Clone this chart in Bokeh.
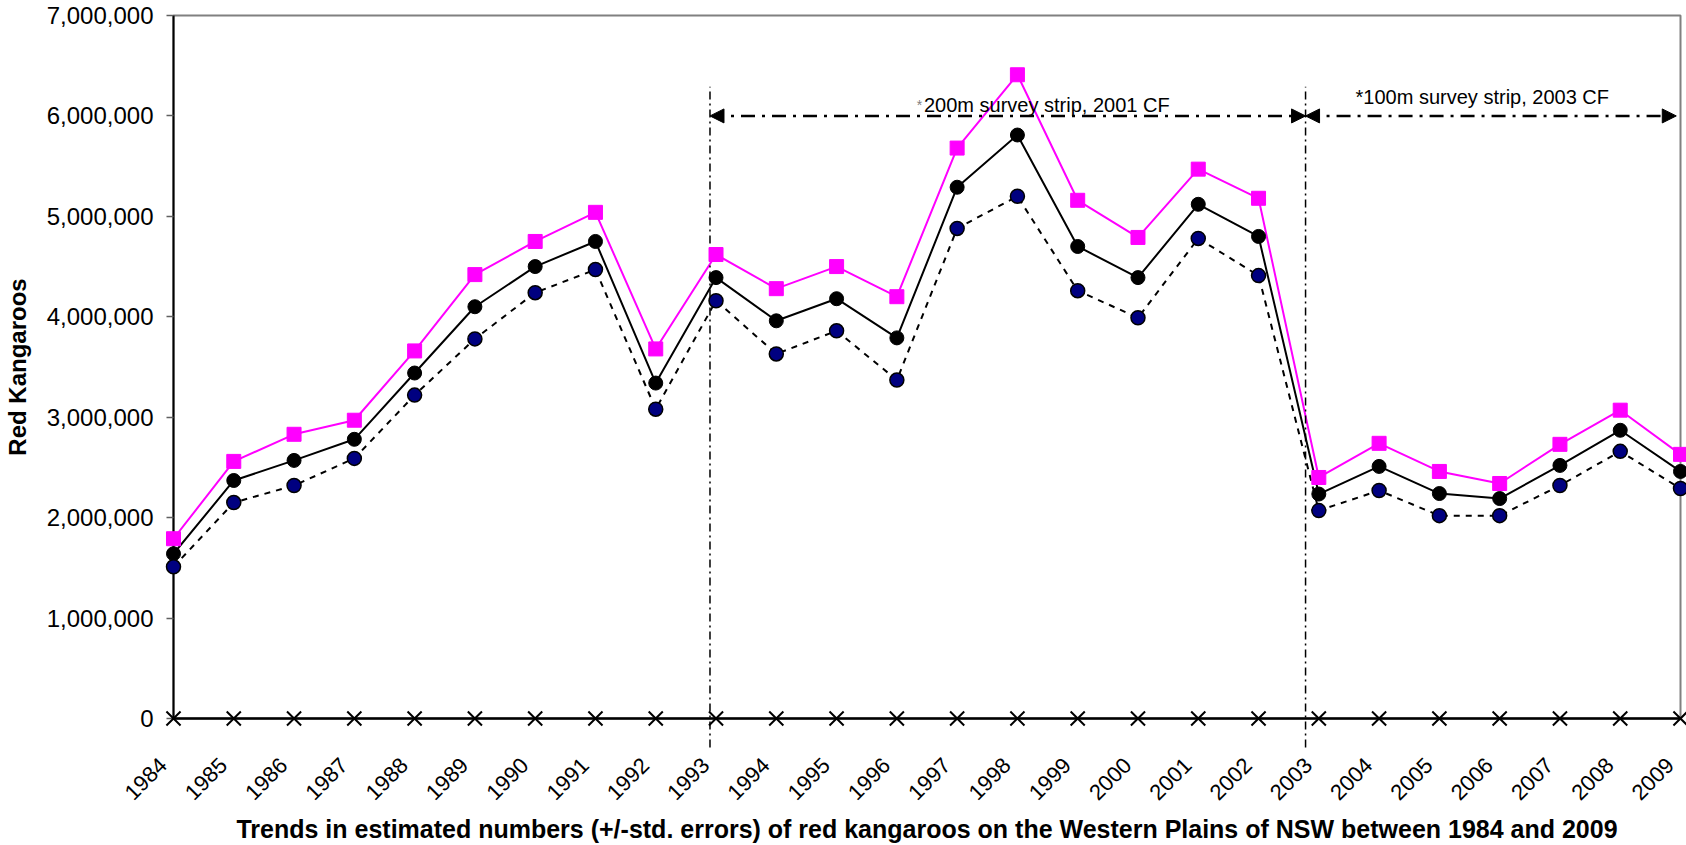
import math
from bokeh.plotting import figure
from bokeh.models import (Range1d, FixedTicker, NumeralTickFormatter, Arrow,
                          NormalHead, Label)
from bokeh.core.properties import value
from bokeh.embed import file_html
from bokeh.resources import INLINE

# ---- data ----
years = list(range(1984, 2010))
year_labels = [str(y) for y in years]
upper = [1790000, 2560000, 2830000, 2970000, 3660000, 4420000, 4750000, 5040000,
         3680000, 4620000, 4280000, 4500000, 4200000, 5680000, 6410000, 5160000,
         4790000, 5470000, 5180000, 2400000, 2740000, 2460000, 2340000, 2730000,
         3070000, 2630000]
estimate = [1640000, 2370000, 2570000, 2780000, 3440000, 4100000, 4500000, 4750000,
            3340000, 4390000, 3960000, 4180000, 3790000, 5290000, 5810000, 4700000,
            4390000, 5120000, 4800000, 2235000, 2510000, 2240000, 2190000, 2520000,
            2870000, 2460000]
lower = [1510000, 2150000, 2320000, 2590000, 3220000, 3780000, 4240000, 4470000,
         3080000, 4160000, 3630000, 3860000, 3370000, 4880000, 5200000, 4260000,
         3990000, 4780000, 4410000, 2070000, 2270000, 2020000, 2020000, 2320000,
         2660000, 2290000]
zeros = [0] * len(years)
y_ticks = [0, 1000000, 2000000, 3000000, 4000000, 5000000, 6000000, 7000000]

strip_edges = [1992.9, 2002.78]
strip_text_1 = "200m survey strip, 2001 CF"
strip_text_2 = "*100m survey strip, 2003 CF"
x_title = ("Trends in estimated numbers (+/-std. errors) of red kangaroos on the "
           "Western Plains of NSW between 1984 and 2009")
y_title = "Red Kangaroos"

FONT = "Liberation Sans"

p = figure(width=1686, height=845, output_backend="svg", toolbar_location=None,
           x_range=Range1d(1984, 2009), y_range=Range1d(0, 7000000),
           min_border_left=172, min_border_right=6, min_border_top=15,
           min_border_bottom=126)
p.background_fill_color = "white"
p.border_fill_color = "white"
p.outline_line_color = "#808080"
p.outline_line_width = 2
p.grid.visible = False

# y axis
ya = p.yaxis[0]
ya.ticker = FixedTicker(ticks=y_ticks)
ya.formatter = NumeralTickFormatter(format="0,0")
ya.major_label_text_font = FONT
ya.major_label_text_font_size = "24px"
ya.major_label_text_color = "black"
ya.major_tick_out = 7
ya.major_tick_in = 0
ya.minor_tick_out = 0
ya.minor_tick_in = 0
ya.major_tick_line_color = "#606060"
ya.major_tick_line_width = 1.5
ya.axis_line_color = "black"
ya.axis_line_width = 2
ya.major_label_standoff = 13
ya.axis_label = y_title
ya.axis_label_text_font = FONT
ya.axis_label_text_font_style = "bold"
ya.axis_label_text_font_size = "24px"
ya.axis_label_text_color = "black"
ya.axis_label_standoff = 13

# x axis (category labels are drawn as rotated text below, like the original)
xa = p.xaxis[0]
xa.ticker = FixedTicker(ticks=[])
xa.major_tick_out = 0
xa.major_tick_in = 0
xa.minor_tick_out = 0
xa.minor_tick_in = 0
xa.major_label_standoff = 0
xa.axis_line_color = "black"
xa.axis_line_width = 2.5
xa.axis_label = x_title
xa.axis_label_text_font = FONT
xa.axis_label_text_font_style = "bold"
xa.axis_label_text_font_size = "25px"
xa.axis_label_text_color = "black"
xa.axis_label_standoff = 96

# label anchor: end of each rotated label sits just below-left of its year
label_x = [y - 0.174 for y in years]
label_y = [-428000] * len(years)
tl = p.text(x=label_x, y=label_y, text=year_labels, angle=math.pi / 4,
            text_align="right", text_baseline="alphabetic",
            text_font=value(FONT), text_font_size="22px", text_color="black")
tl.level = "overlay"

# strip boundaries (vertical dash-dot lines)
seg = p.segment(x0=strip_edges, y0=[-290000] * 2, x1=strip_edges, y1=[6290000] * 2,
                line_color="black", line_width=1.5, line_dash="8 4 2 4")
seg.level = "overlay"

# arrows
for xs, xe in [(strip_edges[0], strip_edges[1]), (strip_edges[1], 2008.93)]:
    p.add_layout(Arrow(x_start=xs, y_start=6000000, x_end=xe, y_end=6000000,
                       line_color="black", line_width=2.5, line_dash="14 7 3 7",
                       start=NormalHead(size=14, fill_color="black", line_color="black",
                                        line_width=1),
                       end=NormalHead(size=14, fill_color="black", line_color="black",
                                      line_width=1)))

# annotation texts
p.add_layout(Label(x=1996.42, y=6105000, text="*", text_align="right",
                   text_baseline="alphabetic", text_font=FONT, text_font_size="14px",
                   text_color="#808080"))
p.add_layout(Label(x=1996.45, y=6105000, text=strip_text_1, text_align="left",
                   text_baseline="alphabetic", text_font=FONT, text_font_size="20px",
                   text_color="black"))
p.add_layout(Label(x=2003.61, y=6190000, text=strip_text_2, text_align="left",
                   text_baseline="alphabetic", text_font=FONT, text_font_size="20px",
                   text_color="black"))

# series
p.line(years, upper, line_color="#FF00FF", line_width=2)
p.line(years, estimate, line_color="black", line_width=2)
p.line(years, lower, line_color="black", line_width=2, line_dash="6 6")

r1 = p.scatter(years, upper, marker="square", size=14, fill_color="#FF00FF",
               line_color="#FF00FF")
r2 = p.scatter(years, estimate, marker="circle", size=14, fill_color="black",
               line_color="black")
r3 = p.scatter(years, lower, marker="circle", size=14, fill_color="#000080",
               line_color="black", line_width=1.5)
r4 = p.scatter(years, zeros, marker="x", size=20, line_color="black", line_width=2)
for r in (r1, r2, r3, r4):
    r.level = "overlay"

open("out.html", "w").write(file_html(p, INLINE))
